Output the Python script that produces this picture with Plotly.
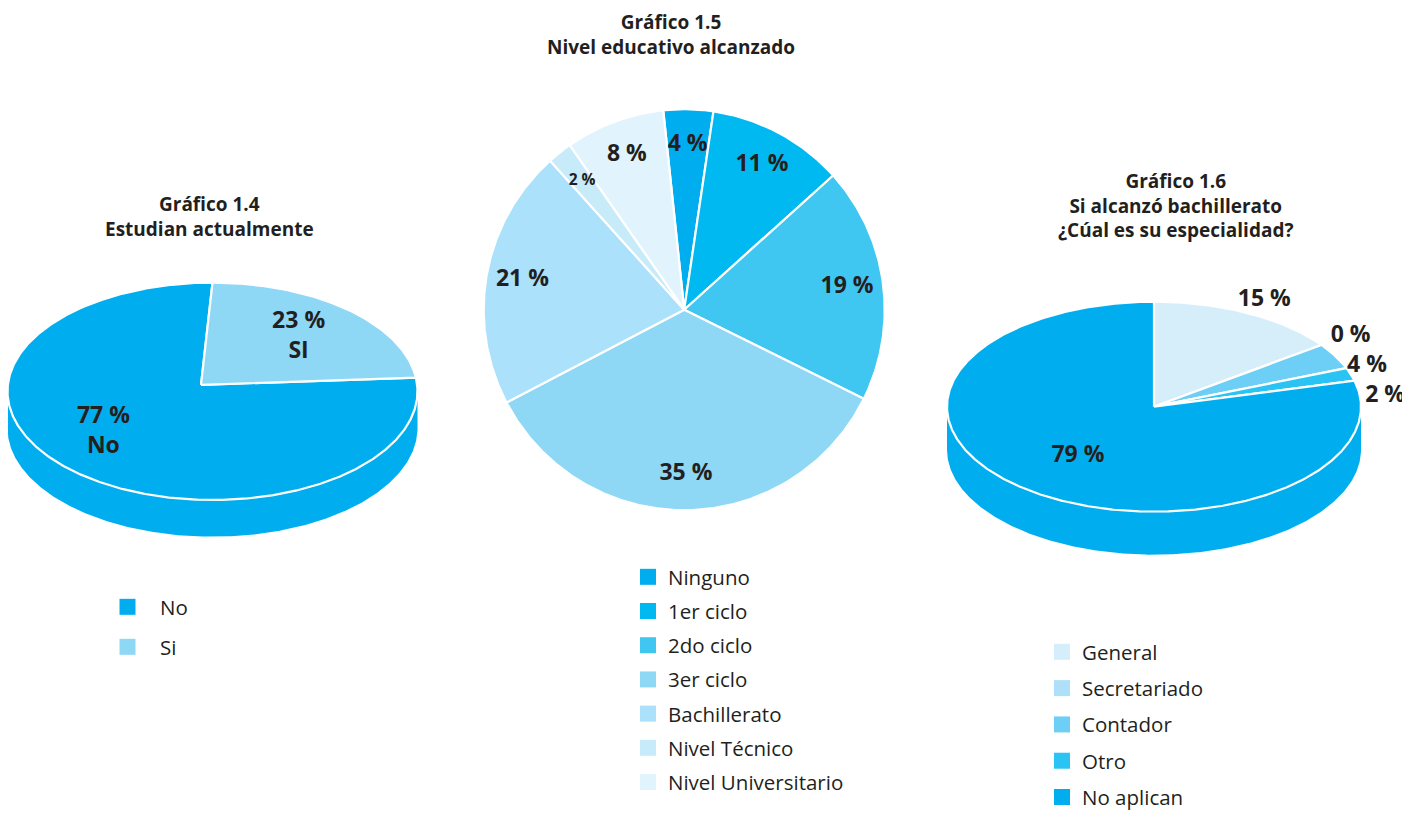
import numpy as np
import plotly.graph_objects as go

# ---------------- Data ----------------
est_labels = ["No", "Si"]
est_slice_names = ["No", "SI"]
est_values = [77, 23]

niv_labels = ["Ninguno", "1er ciclo", "2do ciclo", "3er ciclo",
              "Bachillerato", "Nivel Técnico", "Nivel Universitario"]
niv_values = [4, 11, 19, 35, 21, 2, 8]

esp_labels = ["General", "Secretariado", "Contador", "Otro", "No aplican"]
esp_values = [15, 0, 4, 2, 79]

title_est = ["Gráfico 1.4", "Estudian actualmente"]
title_niv = ["Gráfico 1.5", "Nivel educativo alcanzado"]
title_esp = ["Gráfico 1.6", "Si alcanzó bachillerato", "¿Cúal es su especialidad?"]

# ---------------- Styles ----------------
est_colors = ["#00AEEF", "#8ED8F6"]
niv_colors = ["#00AEEF", "#00B9F1", "#3FC6F1", "#8ED8F6",
              "#ABE1FA", "#C8EBFA", "#E1F3FC"]
esp_colors = ["#D6EEFA", "#AEE1F9", "#6DCFF6", "#29C4F4", "#00AEEF"]

TXT = "#231F20"
FONT = "Open Sans"
OFF = 8                     # page body margin
W, H = 1410 - OFF, 815 - OFF
LEG_FS = 20.5
LBL_FS = 23

fig = go.Figure()


def arc(cx, cy, rx, ry, a0, a1, dy=0.0):
    n = max(2, int(abs(a1 - a0)) * 2 + 2)
    t = np.radians(np.linspace(a0, a1, n))
    return cx + rx * np.sin(t), cy - ry * np.cos(t) + dy


def spans(values, start, clockwise=True):
    tot = float(sum(values))
    out, a = [], start
    for v in values:
        s = 360.0 * v / tot
        if clockwise:
            out.append((a, a + s)); a += s
        else:
            out.append((a - s, a)); a -= s
    return out


def draw_pie(labels, values, colors, geom, legend, start, clockwise,
             texts, label_mode, fontsize, apex=(0, 0)):
    cx, cy, rx, ry, depth = geom
    ax_, ay_ = cx + apex[0], cy + apex[1]
    sp = spans(values, start, clockwise)
    # sides (front half only)
    if depth > 0:
        for lab, col, (a0, a1) in zip(labels, colors, sp):
            for k in (-1, 0, 1):
                f0, f1 = 90 + 360 * k, 270 + 360 * k
                b0, b1 = max(a0, f0), min(a1, f1)
                if b1 > b0:
                    xt, yt = arc(cx, cy, rx, ry, b0, b1)
                    xb, yb = arc(cx, cy, rx, ry, b1, b0, depth)
                    fig.add_trace(go.Scatter(
                        x=np.concatenate([xt, xb, xt[:1]]),
                        y=np.concatenate([yt, yb, yt[:1]]),
                        mode="lines", fill="toself", fillcolor=col,
                        line=dict(width=0, color=col), hoverinfo="skip",
                        legendgroup=lab, legend=legend, showlegend=False))
    # top faces
    for lab, col, v, (a0, a1) in zip(labels, colors, values, sp):
        xa, ya = arc(cx, cy, rx, ry, a0, a1)
        fig.add_trace(go.Scatter(
            x=np.concatenate([[ax_], xa, [ax_]]),
            y=np.concatenate([[ay_], ya, [ay_]]),
            mode="lines", fill="toself", fillcolor=col,
            line=dict(width=2.2, color="white"),
            name=lab, text=f"{lab}: {v} %", hoverinfo="text",
            legendgroup=lab, legend=legend, showlegend=False))
    # labels
    lx, ly = [], []
    prev_y = None
    for (a0, a1), mode in zip(sp, label_mode):
        m = np.radians((a0 + a1) / 2)
        if mode[0] == "in":
            kx, ky = mode[1], mode[2]
            x, y = ax_ + kx * rx * np.sin(m), ay_ - ky * ry * np.cos(m)
            prev_y = None
        else:
            ox, oy, gap = mode[1], mode[2], mode[3]
            x, y = cx + (rx + ox) * np.sin(m), cy - (ry + oy) * np.cos(m)
            if prev_y is not None:
                y = max(y, prev_y + gap)
            prev_y = y
        lx.append(x); ly.append(y)
    fig.add_trace(go.Scatter(
        x=lx, y=ly, mode="text", text=texts, hoverinfo="skip",
        textfont=dict(family=FONT, size=fontsize, color=TXT, weight="bold"),
        showlegend=False))
    # legend entries
    for lab, col in zip(labels, colors):
        fig.add_trace(go.Scatter(
            x=[None], y=[None], mode="markers", name=lab,
            marker=dict(symbol="square", size=16, color=col, line=dict(width=0)),
            legendgroup=lab, legend=legend, showlegend=True))


# Left: Estudian actualmente (3D tilted)
draw_pie(est_labels, est_values, est_colors, (212.5, 391.3, 205, 108.7, 36.7),
         "legend", 0, False,
         [f"{v} %<br>{n}" for v, n in zip(est_values, est_slice_names)],
         [("in", 0.72, 0.58), ("in", 0.72, 0.58)], LBL_FS, apex=(-11.5, -6.5))

# Middle: Nivel educativo (flat)
draw_pie(niv_labels, niv_values, niv_colors, (684.2, 309.7, 200.5, 200.5, 0),
         "legend2", -6, True,
         [f"{v} %" for v in niv_values],
         [("in", 0.82, 0.82)] * len(niv_values),
         [LBL_FS if v >= 3 else 15.5 for v in niv_values])

# Right: Especialidad (3D tilted)
draw_pie(esp_labels, esp_values, esp_colors, (1154, 406.7, 207, 105, 43),
         "legend3", 0, True,
         [f"{v} %" for v in esp_values],
         [("in", 0.6, 0.6) if v >= 50 else ("out", 36, 15, 30) for v in esp_values],
         LBL_FS)

# Titles
for lines, tx, ty in [(title_est, 209.5, 216.7),
                      (title_niv, 670.8, 34.7),
                      (title_esp, 1175.6, 205.8)]:
    fig.add_annotation(x=tx, y=ty, xref="x", yref="y",
                       text="<br>".join(f"<b>{ln}</b>" for ln in lines),
                       showarrow=False, align="center",
                       font=dict(family=FONT, size=19, color=TXT))


def px(xw):
    return (xw - OFF) / W


def py(yw):
    return 1 - (yw - OFF) / H


leg_common = dict(xanchor="left", yanchor="top", bgcolor="rgba(0,0,0,0)",
                  orientation="v", font=dict(family=FONT, size=LEG_FS, color=TXT))
item_h = 1.3 * LEG_FS + 3
fig.update_layout(
    width=W, height=H,
    margin=dict(l=0, r=0, t=0, b=0, pad=0, autoexpand=False),
    paper_bgcolor="white", plot_bgcolor="white",
    xaxis=dict(range=[OFF, OFF + W], visible=False, fixedrange=True),
    yaxis=dict(range=[OFF + H, OFF], visible=False, fixedrange=True),
    legend=dict(x=px(95), y=py(607 - 20), tracegroupgap=40 - item_h,
                itemwidth=55, **leg_common),
    legend2=dict(x=px(628), y=py(577 - 20), tracegroupgap=34.2 - item_h,
                 itemwidth=30, **leg_common),
    legend3=dict(x=px(1042), y=py(652 - 20), tracegroupgap=36.3 - item_h,
                 itemwidth=30, **leg_common),
)

fig.write_html("out.html")
